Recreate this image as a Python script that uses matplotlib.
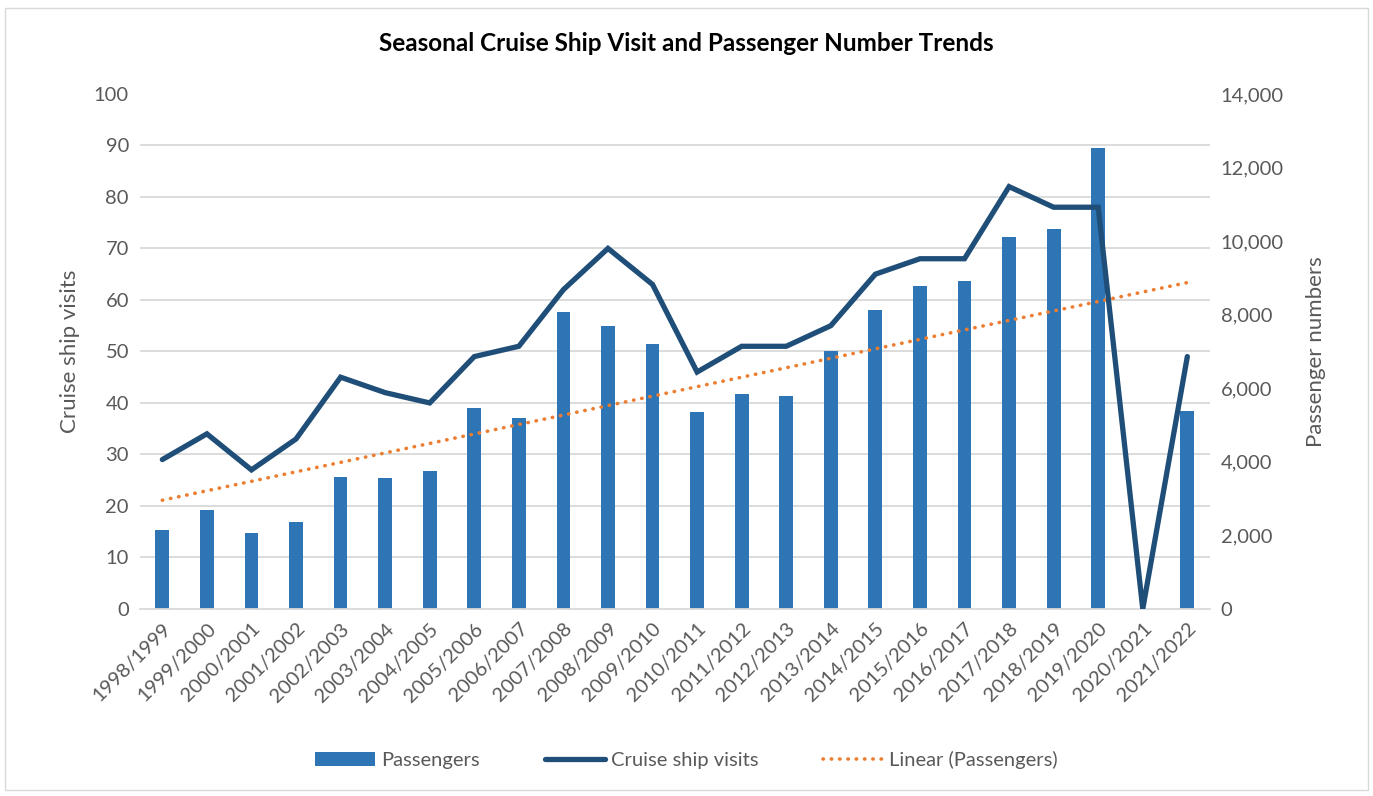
import numpy as np
import matplotlib.pyplot as plt
from matplotlib.patches import Rectangle, Patch
from matplotlib.lines import Line2D
from matplotlib.ticker import FuncFormatter

plt.rcParams['font.family'] = ['Lato', 'DejaVu Sans']

# Seasons and values
seasons = ['1998/1999', '1999/2000', '2000/2001', '2001/2002', '2002/2003',
           '2003/2004', '2004/2005', '2005/2006', '2006/2007', '2007/2008',
           '2008/2009', '2009/2010', '2010/2011', '2011/2012', '2012/2013',
           '2013/2014', '2014/2015', '2015/2016', '2016/2017', '2017/2018',
           '2018/2019', '2019/2020', '2020/2021', '2021/2022']
passengers = [2150, 2690, 2070, 2370, 3590, 3560, 3760, 5460, 5200, 8060,
              7700, 7210, 5350, 5830, 5780, 7010, 8130, 8780, 8920, 10100,
              10320, 12520, 0, 5370]
visits = [29, 34, 27, 33, 45, 42, 40, 49, 51, 62,
          70, 63, 46, 51, 51, 55, 65, 68, 68, 82,
          78, 78, 0, 49]

grey = '#595959'
x = np.arange(len(seasons))

fig = plt.figure(figsize=(13.73, 7.96), dpi=100)
fig.patches.append(Rectangle((0.004, 0.008), 0.992, 0.982, transform=fig.transFigure,
                             fill=False, edgecolor='#D9D9D9', linewidth=1))

# bars live on the base axes (right-hand scale), line on the twin (left-hand scale)
ax = fig.add_axes([0.102, 0.235, 0.779, 0.647])
ax2 = ax.twinx()

ax.bar(x, passengers, width=0.31, color='#2E75B6', zorder=2)
trend = np.polyval(np.polyfit(x, passengers, 1), x)
dots = (0, (0.1, 2.2))
ax.plot(x, trend, color='#ED7D31', linestyle=dots, linewidth=2.6,
        dash_capstyle='round', zorder=3)

ax2.plot(x, visits, color='#1F4E79', linewidth=3.8, solid_capstyle='round',
         solid_joinstyle='miter')

ax.set_xlim(-0.5, len(seasons) - 0.5)
ax.set_ylim(0, 14000)
ax2.set_ylim(0, 100)

# right axis (passengers)
ax.yaxis.tick_right()
ax.yaxis.set_label_position('right')
ax.set_yticks(np.arange(0, 14001, 2000))
ax.yaxis.set_major_formatter(FuncFormatter(lambda v, p: f'{int(v):,}'))
ax.set_ylabel('Passenger numbers', fontsize=16, color=grey, labelpad=16)
# gridlines follow the left scale (every 10 visits)
ax.set_yticks(np.arange(0, 14001, 1400), minor=True)
ax.grid(axis='y', which='minor', color='#D9D9D9', linewidth=1.3, zorder=0)
ax.set_axisbelow(True)

# left axis (visits)
ax2.yaxis.tick_left()
ax2.yaxis.set_label_position('left')
ax2.set_yticks(np.arange(0, 101, 10))
ax2.set_ylabel('Cruise ship visits', fontsize=16, color=grey, labelpad=10)

ax.set_xticks(x)
ax.set_xticklabels(seasons, rotation=45, ha='right', rotation_mode='anchor')

for a in (ax, ax2):
    a.tick_params(axis='both', which='both', length=0, labelsize=14.5, labelcolor=grey, pad=8)
    for s in a.spines.values():
        s.set_visible(False)
ax.spines['bottom'].set_visible(True)
ax.spines['bottom'].set_color('#D9D9D9')
ax.spines['bottom'].set_linewidth(1.3)

fig.suptitle('Seasonal Cruise Ship Visit and Passenger Number Trends', x=0.5, y=0.96,
             fontsize=17.5, fontweight='bold', color='black')

handles = [Patch(facecolor='#2E75B6'),
           Line2D([], [], color='#1F4E79', linewidth=3.8, solid_capstyle='round'),
           Line2D([], [], color='#ED7D31', linestyle=dots, linewidth=2.6,
                  dash_capstyle='round')]
fig.legend(handles, ['Passengers', 'Cruise ship visits', 'Linear (Passengers)'],
           loc='center', bbox_to_anchor=(0.5, 0.045), ncol=3, frameon=False,
           fontsize=14.5, labelcolor=grey, handlelength=3.0, handletextpad=0.3,
           columnspacing=3.2)

fig.savefig('out.png', dpi=100)
